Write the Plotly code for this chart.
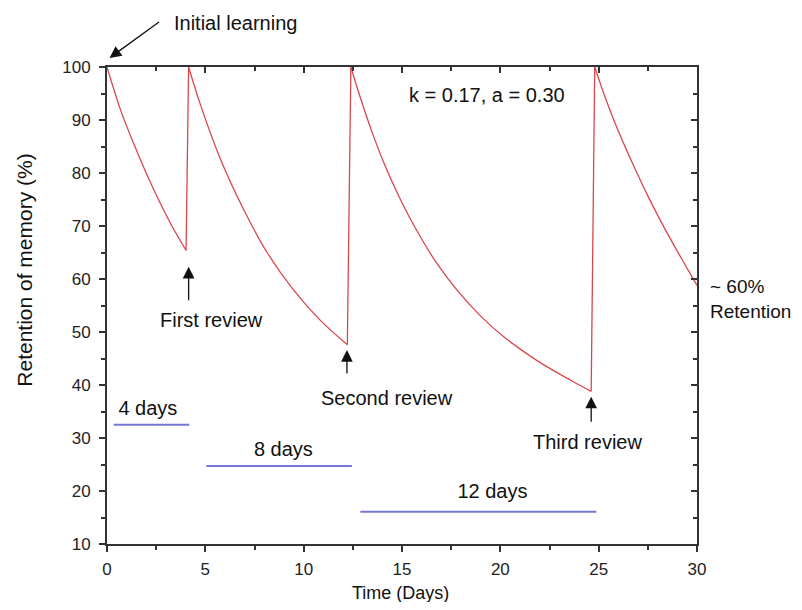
import plotly.graph_objects as go

# memory retention after each review
day_seg1 = [0.0, 0.68, 1.35, 1.98, 2.63, 3.30, 4.02]
ret_seg1 = [100.0, 92.0, 85.6, 80.1, 74.9, 70.0, 65.4]

day_seg2 = [4.15, 4.75, 5.76, 6.95, 8.14, 9.49, 10.85, 12.22]
ret_seg2 = [100.0, 92.9, 82.7, 73.1, 65.0, 57.9, 52.2, 47.6]

day_seg3 = [12.40, 12.90, 13.45, 14.07, 14.92, 15.77, 16.80, 17.80, 19.00, 20.17, 21.87, 23.57, 24.62]
ret_seg3 = [100.0, 94.0, 88.0, 82.0, 75.0, 69.0, 62.8, 57.9, 53.0, 49.1, 44.6, 40.9, 38.8]

day_seg4 = [24.80, 25.26, 25.77, 26.36, 26.96, 27.55, 28.23, 28.99, 29.72, 30.0]
ret_seg4 = [100.0, 95.0, 90.0, 84.8, 79.9, 75.3, 70.4, 65.3, 60.6, 58.8]

# review intervals (blue bars)
interval_start = [0.34, 5.05, 12.88]
interval_end = [4.18, 12.45, 24.88]
interval_level = [32.5, 24.7, 16.1]
interval_label = ["4 days", "8 days", "12 days"]
label_day = [2.08, 8.97, 19.6]
label_ret = [35.3, 27.6, 19.6]

# review arrows: x, tip, tail, text position
review_text = ["First review", "Second review", "Third review"]
review_day = [4.15, 12.20, 24.62]
review_tip = [62.3, 46.6, 37.8]
review_tail = [55.7, 41.9, 32.8]
review_text_day = [5.30, 14.25, 24.42]
review_text_ret = [52.2, 37.6, 29.3]

RED = "#d9474a"
BLUE = "#7478d2"
AXIS = "#333333"
INK = "#111111"
FONT = "Liberation Sans, Arial, sans-serif"

segments = [(day_seg1, ret_seg1), (day_seg2, ret_seg2),
            (day_seg3, ret_seg3), (day_seg4, ret_seg4)]

fig = go.Figure()

for d, r in segments:
    fig.add_trace(go.Scatter(x=d, y=r, mode="lines",
                             line=dict(color=RED, width=1.3, shape="spline", smoothing=1.0),
                             showlegend=False, hoverinfo="skip"))

# jumps at each review
jx, jy = [], []
for (d0, r0), (d1, r1) in zip(segments[:-1], segments[1:]):
    jx += [d0[-1], d1[0], None]
    jy += [r0[-1], r1[0], None]
fig.add_trace(go.Scatter(x=jx, y=jy, mode="lines", line=dict(color=RED, width=1.3),
                         showlegend=False, hoverinfo="skip"))

# interval bars (on the mirror axes so the top/right frame gets drawn)
bx, by = [], []
for s, e, lv in zip(interval_start, interval_end, interval_level):
    bx += [s, e, None]
    by += [lv, lv, None]
fig.add_trace(go.Scatter(x=bx, y=by, mode="lines", line=dict(color=BLUE, width=2),
                         xaxis="x2", yaxis="y2", showlegend=False, hoverinfo="skip"))

fig.add_trace(go.Scatter(x=label_day, y=label_ret, mode="text", text=interval_label,
                         textfont=dict(family=FONT, size=20, color=INK),
                         showlegend=False, hoverinfo="skip"))

annotations = []
for t, x, tip, tail, tx, ty in zip(review_text, review_day, review_tip, review_tail,
                                   review_text_day, review_text_ret):
    annotations.append(dict(x=x, y=tip, ax=x, ay=tail, xref="x", yref="y", axref="x", ayref="y",
                            text="", showarrow=True, arrowhead=2, arrowsize=1.8, arrowwidth=1.3,
                            arrowcolor=INK))
    annotations.append(dict(x=tx, y=ty, xref="x", yref="y", text=t, showarrow=False,
                            font=dict(family=FONT, size=20, color=INK)))

annotations.append(dict(x=19.33, y=94.8, xref="x", yref="y", text="k = 0.17, a = 0.30",
                        showarrow=False, font=dict(family=FONT, size=20, color=INK)))

# texts outside the axes ranges go in paper coords (data refs off-range get hidden)
annotations.append(dict(x=0.0043, y=1.019, xref="paper", yref="paper", ax=51, ay=-37, text="",
                        showarrow=True, arrowhead=2, arrowsize=1.8, arrowwidth=1.3,
                        arrowcolor=INK))
annotations.append(dict(x=0.110, y=1.093, xref="paper", yref="paper", text="Initial learning",
                        xanchor="left", yanchor="middle", showarrow=False,
                        font=dict(family=FONT, size=20, color=INK)))
annotations.append(dict(x=1.018, y=0.514, xref="paper", yref="paper", text="~ 60%<br>Retention",
                        xanchor="left", yanchor="middle", align="left", showarrow=False,
                        font=dict(family=FONT, size=19, color=INK)))
# axis titles
annotations.append(dict(x=-0.139, y=0.575, xref="paper", yref="paper", text="Retention of memory (%)",
                        textangle=-90, xanchor="center", yanchor="middle", showarrow=False,
                        font=dict(family=FONT, size=21, color=INK)))
annotations.append(dict(x=0.497, y=-0.102, xref="paper", yref="paper", text="Time (Days)",
                        xanchor="center", yanchor="middle", showarrow=False,
                        font=dict(family=FONT, size=18, color=INK)))


def frame_axis(rng, step, **kw):
    return dict(range=rng, dtick=step, showgrid=False, zeroline=False, showline=True,
                linecolor=AXIS, linewidth=2, ticklen=6, tickwidth=1.5, tickcolor=AXIS,
                minor=dict(dtick=step / 2, ticks=kw.get("ticks"), ticklen=4,
                           tickwidth=1.5, tickcolor=AXIS), **kw)


# page body has an 8px margin all round, so the figure is 16px smaller and shifted
fig.update_layout(
    width=786, height=594,
    margin=dict(l=99, r=97, t=59, b=58),
    paper_bgcolor="white", plot_bgcolor="white",
    font=dict(family=FONT, size=17, color="#222222"),
    annotations=annotations,
    xaxis=frame_axis([0, 30], 5, ticks="outside", ticklabelstandoff=3),
    yaxis=frame_axis([10, 100], 10, ticks="outside", ticklabelstandoff=5),
    xaxis2=frame_axis([0, 30], 5, ticks="inside", overlaying="x", side="top",
                      anchor="y2", showticklabels=False),
    yaxis2=frame_axis([10, 100], 10, ticks="inside", overlaying="y", side="right",
                      anchor="x2", showticklabels=False),
)

fig.write_html("out.html")
